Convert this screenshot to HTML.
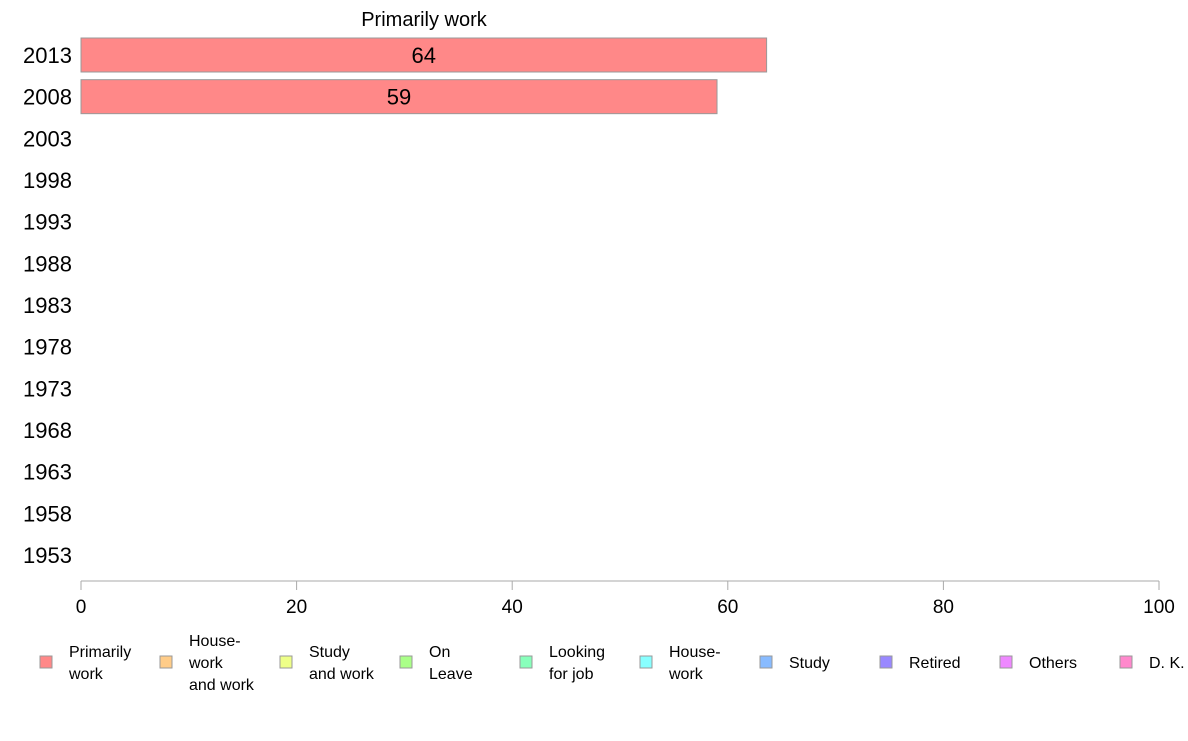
<!DOCTYPE html>
<html><head><meta charset="utf-8"><style>
body{margin:0;background:#fff;font-family:"Liberation Sans",sans-serif;}
</style></head><body>
<svg id="chart" width="1188" height="736" xmlns="http://www.w3.org/2000/svg" font-family="Liberation Sans, sans-serif">
<text x="424" y="26" text-anchor="middle" font-size="20">Primarily work</text>
<g id="yaxis"></g><g id="bars"></g><g id="xaxis"></g><g id="legend"></g>
</svg>
<script>
const years = ["2013","2008","2003","1998","1993","1988","1983","1978","1973","1968","1963","1958","1953"];
const values = [63.6, 59.0, null, null, null, null, null, null, null, null, null, null, null];
const labels = ["64","59"];
const xTicks = [0,20,40,60,80,100];
const legendNames = [["Primarily","work"],["House-","work","and work"],["Study","and work"],["On","Leave"],["Looking","for job"],["House-","work"],["Study"],["Retired"],["Others"],["D. K."]];
const legendColors = ["#ff8888","#ffcc88","#eeff88","#aaff88","#88ffbb","#88ffff","#88bbff","#9988ff","#ee88ff","#ff88cc"];
const NS="http://www.w3.org/2000/svg";
const x0=81,x1=1159,yTop=55,rowH=41.67,bh=34;
const xs=v=>x0+(x1-x0)*v/100;
const ys=i=>yTop+i*rowH;
function mk(t,a,p){const e=document.createElementNS(NS,t);for(const k in a)e.setAttribute(k,a[k]);p.appendChild(e);return e;}
const gy=document.getElementById('yaxis'),gb=document.getElementById('bars'),gx=document.getElementById('xaxis'),gl=document.getElementById('legend');
years.forEach((y,i)=>{
  const t=mk('text',{x:72,y:ys(i)+8,'text-anchor':'end','font-size':22},gy);t.textContent=y;
  
  
  const v=values[i];
  if(v!=null){
    const r=mk('rect',{x:xs(0),y:ys(i)-bh/2,width:xs(v)-xs(0),height:bh,fill:'#ff8888',stroke:'#999','stroke-width':1},gb);
    
    
    const l=mk('text',{x:(xs(0)+xs(v))/2,y:ys(i)+8,'text-anchor':'middle','font-size':22},gb);l.textContent=labels[i]!=null?labels[i]:Math.round(v);
    
    
  }
});
const ax=mk('line',{x1:x0,x2:x1,y1:581,y2:581,stroke:'#aaa','stroke-width':1},gx);


xTicks.forEach(v=>{
  mk('line',{x1:xs(v),x2:xs(v),y1:581,y2:590,stroke:'#aaa'},gx);
  const t=mk('text',{x:xs(v),y:613,'text-anchor':'middle','font-size':19},gx);t.textContent=v;
  
  
});
legendNames.forEach((n,i)=>{
  const sx=40+i*120;
  const g=mk('g',{},gl);
  
  
  mk('rect',{x:sx,y:656,width:12,height:12,fill:legendColors[i],stroke:'#999'},g);
  const top=662-(n.length-1)*11+6;
  n.forEach((line,j)=>{const t=mk('text',{x:sx+29,y:top+j*22,'font-size':16},g);t.textContent=line;});
});
</script>
</body></html>
